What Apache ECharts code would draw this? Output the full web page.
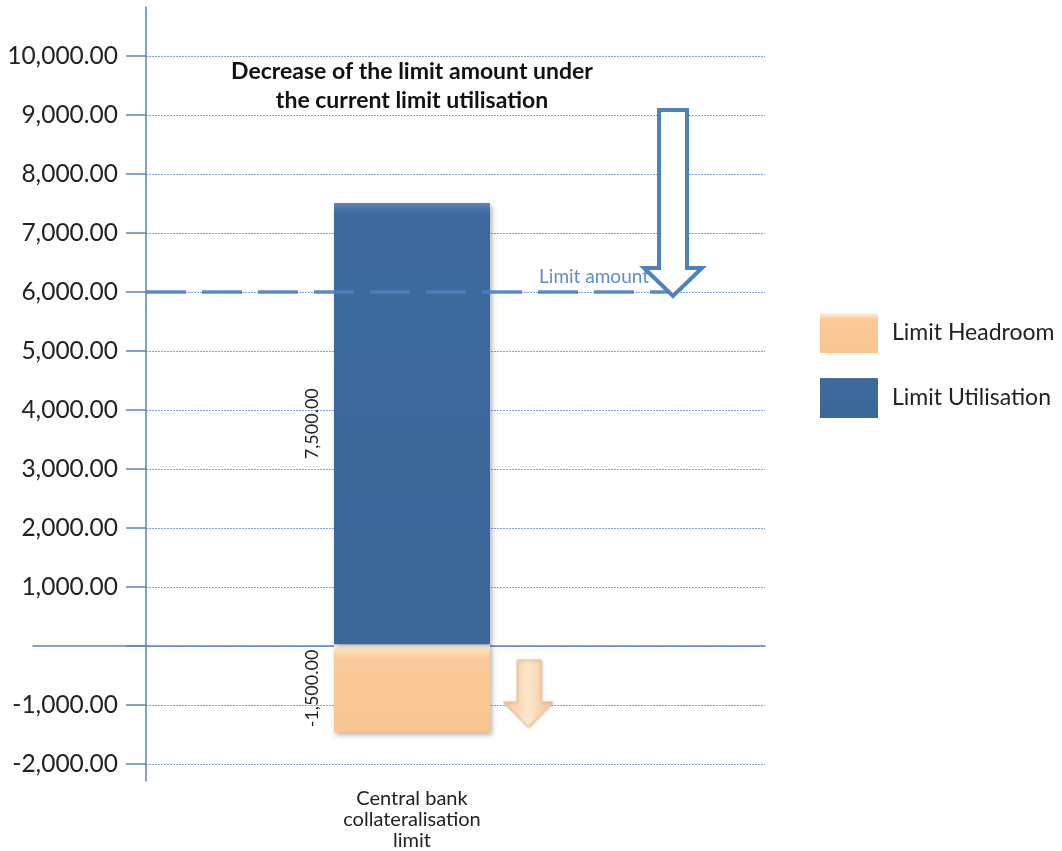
<!DOCTYPE html>
<html>
<head>
<meta charset="utf-8">
<script src="https://cdn.jsdelivr.net/npm/echarts@6/dist/echarts.min.js"></script>
<style>
html,body{margin:0;padding:0;background:#fff;}
#c{width:1062px;height:851px;}
</style>
</head>
<body>
<div id="c"></div>
<script>
// ---- data ----
const categories = ['Central bank\ncollateralisation\nlimit'];
const seriesNames = ['Limit Headroom', 'Limit Utilisation'];
const headroom = [-1500];
const utilisation = [7500];
const limitAmount = 6000;
const limitLabel = 'Limit amount';
const annotationLines = ['Decrease of the limit amount under', 'the current limit utilisation'];
const yMin = -2000, yMax = 10000, yStep = 1000;

const FONT = 'Lato, "Noto Sans", sans-serif';
const AXIS = '#5585c4';
const BLUE_FILL = new echarts.graphic.LinearGradient(0, 0, 0, 1, [
  {offset: 0, color: '#5d89bd'}, {offset: 0.015, color: '#4672a5'},
  {offset: 0.03, color: '#3d6a9d'}, {offset: 1, color: '#3b6799'}]);
const PEACH_FILL = new echarts.graphic.LinearGradient(0, 0, 0, 1, [
  {offset: 0, color: '#fff3df'}, {offset: 0.08, color: '#fddcb6'},
  {offset: 0.16, color: '#fbc997'}, {offset: 1, color: '#f9c692'}]);

function fmt(v) {
  return Number(v).toLocaleString('en-US', {minimumFractionDigits: 2, maximumFractionDigits: 2});
}

const chart = echarts.init(document.getElementById('c'), null, {renderer: 'canvas'});

const gridTop = 56, gridBottom = 87;
const option = {
  backgroundColor: '#ffffff',
  animation: false,
  grid: [
    {left: 146, right: 297, top: gridTop, bottom: gridBottom},   // gridlines + labels
    {left: 146, right: 384, top: gridTop, bottom: gridBottom},   // bars
    {left: 33, right: 297, top: gridTop, bottom: gridBottom},    // zero line
    {left: 146, right: 297, top: 7, bottom: 70}                  // long y axis line
  ],
  xAxis: [
    {gridIndex: 0, type: 'category', data: categories, show: false},
    {gridIndex: 1, type: 'category', data: categories,
     axisLine: {show: false, onZero: false}, axisTick: {show: false},
     axisLabel: {margin: 26, fontSize: 20, lineHeight: 21, color: '#222', fontFamily: FONT}},
    {gridIndex: 2, type: 'value', min: 0, max: 1,
     axisLine: {show: true, onZero: true, lineStyle: {color: AXIS, width: 1.5}},
     axisTick: {show: false}, axisLabel: {show: false}, splitLine: {show: false}},
    {gridIndex: 3, type: 'value', min: 0, max: 1, show: false}
  ],
  yAxis: [
    {gridIndex: 0, type: 'value', min: yMin, max: yMax, interval: yStep,
     axisLine: {show: false},
     axisTick: {show: true, length: 20, lineStyle: {color: AXIS, width: 1.5}},
     axisLabel: {formatter: v => (v === 0 ? '' : fmt(v)), margin: 28, fontSize: 24.5, color: '#222', fontFamily: FONT},
     splitLine: {show: true, lineStyle: {color: '#7fa3d3', width: 1, type: [2, 1]}}},
    {gridIndex: 1, type: 'value', min: yMin, max: yMax, interval: yStep, show: false},
    {gridIndex: 2, type: 'value', min: yMin, max: yMax, interval: yStep, show: false},
    {gridIndex: 3, type: 'value', min: 0, max: 1,
     axisLine: {show: true, onZero: false, lineStyle: {color: AXIS, width: 1.5}},
     axisTick: {show: false}, axisLabel: {show: false}, splitLine: {show: false}}
  ],
  legend: {
    orient: 'vertical', left: 815, top: 308,
    itemWidth: 58, itemHeight: 40, itemGap: 25, icon: 'rect',
    data: seriesNames,
    textStyle: {fontSize: 23, color: '#222', fontFamily: FONT, padding: [0, 0, 0, 9]}
  },
  series: [
    {
      name: seriesNames[0], type: 'bar', xAxisIndex: 1, yAxisIndex: 1,
      stack: 'total', barWidth: 156, data: headroom,
      itemStyle: {color: PEACH_FILL, shadowBlur: 5, shadowColor: 'rgba(0,0,0,0.3)', shadowOffsetX: 2, shadowOffsetY: 2},
      label: {show: true, position: 'left', distance: 13, rotate: 90, align: 'center', verticalAlign: 'bottom',
              formatter: p => fmt(p.value), fontSize: 18, color: '#222', fontFamily: FONT}
    },
    {
      name: seriesNames[1], type: 'bar', xAxisIndex: 1, yAxisIndex: 1,
      stack: 'total', barWidth: 156, data: utilisation,
      itemStyle: {color: BLUE_FILL, shadowBlur: 5, shadowColor: 'rgba(0,0,0,0.3)', shadowOffsetX: 2, shadowOffsetY: 2},
      label: {show: true, position: 'left', distance: 13, rotate: 90, align: 'center', verticalAlign: 'bottom',
              formatter: p => fmt(p.value), fontSize: 18, color: '#222', fontFamily: FONT},
      markLine: {
        silent: true, symbol: 'none', z: 10,
        lineStyle: {color: '#4f81bd', width: 3.5, type: [40, 16], opacity: 0.9},
        label: {show: true, formatter: limitLabel, position: 'insideEndTop', color: '#4f81bd',
                fontSize: 19, fontFamily: FONT, padding: [0, 24, 0, 0]},
        data: [{yAxis: limitAmount}]
      }
    }
  ]
};
chart.setOption(option);

// ---- annotations (arrows + text) ----
const tipY = chart.convertToPixel({yAxisIndex: 0}, limitAmount);
const bigArrow = [[659, 110], [687, 110], [687, tipY - 24], [702, tipY - 24], [673, tipY + 4], [644, tipY - 24], [659, tipY - 24]];
const smallArrow = [[517, 660], [541, 660], [541, 702], [553, 702], [528, 727], [503, 702], [517, 702]];

chart.setOption({
  graphic: [
    {type: 'polygon', shape: {points: bigArrow}, z: 100,
     style: {fill: '#ffffff', stroke: '#4f81bd', lineWidth: 4, lineJoin: 'miter'}},
    {type: 'polygon', shape: {points: smallArrow}, z: 100,
     style: {fill: new echarts.graphic.LinearGradient(0, 0, 1, 0, [
        {offset: 0, color: '#f8c690'}, {offset: 0.5, color: '#fde6cc'}, {offset: 1, color: '#f4c08c'}]),
        stroke: '#ecc39a', lineWidth: 1,
        shadowBlur: 3, shadowColor: 'rgba(0,0,0,0.2)', shadowOffsetX: 1, shadowOffsetY: 1}},
    {type: 'text', x: 412, y: 72, z: 100,
     style: {text: annotationLines[0], fill: '#111', font: 'bold 23px ' + FONT, textAlign: 'center', textVerticalAlign: 'middle'}},
    {type: 'text', x: 412, y: 101, z: 100,
     style: {text: annotationLines[1], fill: '#111', font: 'bold 23px ' + FONT, textAlign: 'center', textVerticalAlign: 'middle'}}
  ]
});
</script>
</body>
</html>
